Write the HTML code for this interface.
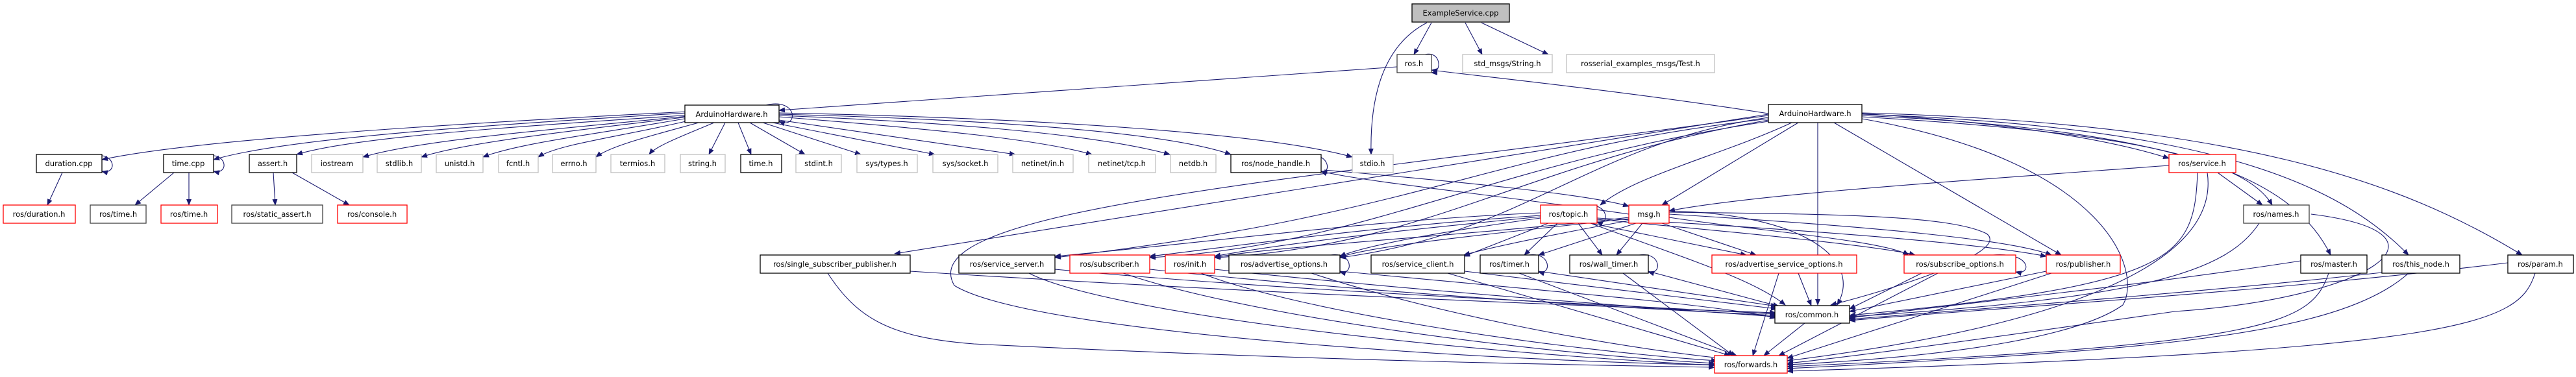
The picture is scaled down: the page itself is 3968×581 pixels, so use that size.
<!DOCTYPE html>
<html><head><meta charset="utf-8"><style>
html,body{margin:0;padding:0;background:#fff;width:3968px;height:581px;overflow:hidden}
svg text{font-family:"DejaVu Sans","Liberation Sans",sans-serif;font-size:11.5px;fill:#000;text-anchor:middle}
.e path{fill:none;stroke:#191970;stroke-width:1.1}
.n rect{fill:#fff;stroke-width:1.3}
.k{stroke:#000}.g{stroke:#bfbfbf}.r{stroke:#ff0000}.d{stroke:#404040}
</style></head><body>
<svg width="3968" height="581" viewBox="0 0 3968 581" xmlns="http://www.w3.org/2000/svg">
<defs><marker id="a" markerWidth="10" markerHeight="8" refX="9" refY="4" orient="auto" markerUnits="userSpaceOnUse"><path d="M0,0 L10,4 L0,8 z" fill="#191970"/></marker></defs>
<g class="e" marker-end="url(#a)">
<!-- ExampleService -->
<path d="M2205,35 L2178,84"/><path d="M2257,35 L2283,84"/><path d="M2282,35 L2385,84"/>
<path d="M2198,35 C2130,70 2110,150 2112,238"/>
<path d="M2152,103 L1200,170"/>
<path d="M2724,175 C2500,140 2300,120 2205,108"/>
<path d="M2195,84 C2220,78 2222,112 2205,112"/>
<!-- AHL to row2 -->
<path d="M1100,170 C700,190 300,215 157,246"/>
<path d="M1090,172 C800,190 450,210 329,246"/>
<path d="M1080,176 C800,195 550,210 457,238"/>
<path d="M1070,178 C850,200 650,215 559,242"/>
<path d="M1060,180 C900,200 720,218 649,242"/>
<path d="M1060,182 C930,205 800,220 744,242"/>
<path d="M1065,185 C960,210 860,222 829,242"/>
<path d="M1080,188 C1000,210 940,225 918,242"/>
<path d="M1100,189 C1050,210 1010,225 1000,238"/>
<path d="M1117,189 L1092,238"/>
<path d="M1137,189 L1157,238"/>
<path d="M1155,189 L1240,238"/>
<path d="M1175,189 L1326,238"/>
<path d="M1190,189 L1440,238"/>
<path d="M1200,185 L1564,238"/>
<path d="M1200,180 C1450,200 1600,215 1682,238"/>
<path d="M1200,178 C1500,190 1700,210 1802,238"/>
<path d="M1200,176 C1550,185 1800,205 1896,238"/>
<path d="M1200,174 C1600,182 1950,205 2083,242"/>
<path d="M1180,162 C1230,150 1230,200 1200,187"/>
<!-- row2 children -->
<path d="M96,266 L73,316"/><path d="M268,266 L208,316"/><path d="M291,266 L291,316"/>
<path d="M421,266 L424,316"/><path d="M450,266 L538,316"/>
<path d="M145,240 C180,235 180,270 157,264"/><path d="M318,240 C352,235 352,270 329,264"/>
<!-- AHR -->
<path d="M2760,189 C2650,240 2520,270 2465,316"/>
<path d="M2770,189 L2560,316"/>
<path d="M2868,175 C3100,190 3250,215 3341,244"/>
<path d="M2868,180 C3200,200 3450,230 3500,316"/>
<path d="M2868,178 C3350,200 3530,270 3590,393"/>
<path d="M2868,176 C3400,195 3600,280 3710,393"/>
<path d="M2868,174 C3450,190 3700,280 3885,393"/>
<path d="M2825,189 L3175,393"/>
<path d="M2724,183 C2300,230 2200,330 1625,397"/>
<path d="M2724,187 C2300,250 2100,380 1771,397"/>
<path d="M2724,185 C2350,250 2200,380 1871,397"/>
<path d="M2724,181 C2450,220 2350,360 2064,397"/>
<path d="M2800,189 L2800,470"/>
<path d="M2724,176 L1378,391"/>
<path d="M2724,178 C2000,280 1400,320 1470,440 C1600,520 2400,560 2641,562"/>
<path d="M2868,183 C3250,250 3300,420 3270,470 C3200,520 3000,550 2753,562"/>
<!-- topic -->
<path d="M2373,328 C2100,340 1900,370 1625,395"/>
<path d="M2373,332 C2100,350 1900,380 1771,395"/>
<path d="M2373,334 C2100,360 1950,380 1871,395"/>
<path d="M2373,336 C2200,360 2100,380 2064,395"/>
<path d="M2385,344 L2255,395"/>
<path d="M2399,344 L2348,393"/>
<path d="M2431,344 L2468,393"/>
<path d="M2450,344 L2690,393"/>
<path d="M2460,338 C2700,360 2900,380 2950,393"/>
<path d="M2460,336 C2800,355 3050,375 3152,395"/>
<path d="M2450,344 C2600,400 2700,430 2750,470"/>
<path d="M2440,317 C2480,310 2480,350 2460,342"/>
<!-- msg -->
<path d="M2509,335 C2300,360 1950,380 1871,397"/>
<path d="M2509,337 C2300,360 2100,380 2064,397"/>
<path d="M2509,340 C2400,360 2300,380 2255,393"/>
<path d="M2520,344 L2370,393"/>
<path d="M2530,344 L2490,393"/>
<path d="M2560,344 L2705,393"/>
<path d="M2571,335 C2700,355 2900,370 2940,393"/>
<path d="M2571,330 C2900,350 3100,370 3160,393"/>
<path d="M2571,327 C2800,330 3000,330 3060,360 C3100,390 2900,450 2820,470"/>
<path d="M2571,325 C2780,330 2870,400 2830,470"/>
<path d="M2509,330 C2300,300 2100,280 2035,264"/>
<path d="M2040,262 C2250,280 2450,300 2509,318"/>
<path d="M3341,255 C3000,280 2700,300 2571,325"/>
<!-- row4 to common / forwards -->
<path d="M1402,418 C1900,450 2400,470 2735,482"/>
<path d="M1625,415 C2000,450 2500,470 2735,484"/>
<path d="M1771,415 C2100,450 2500,475 2735,486"/>
<path d="M1871,415 C2200,450 2550,475 2735,488"/>
<path d="M2064,418 C2400,450 2650,470 2735,490"/>
<path d="M2256,418 L2737,476"/>
<path d="M2370,418 L2737,472"/>
<path d="M2539,418 L2740,472"/>
<path d="M2770,421 L2790,471"/>
<path d="M2960,421 L2849,476"/>
<path d="M3152,418 L2849,480"/>
<path d="M3385,266 C3380,400 3350,440 2849,486"/>
<path d="M3480,344 C3430,420 3300,460 2849,488"/>
<path d="M3544,402 C3300,440 3000,470 2849,490"/>
<path d="M3669,420 C3400,450 3000,480 2849,492"/>
<path d="M3863,405 C3500,450 3000,480 2849,494"/>
<path d="M1275,421 C1320,490 1370,520 1500,530 C2000,555 2400,562 2641,566"/>
<path d="M1585,421 C1700,480 2200,540 2641,563"/>
<path d="M1730,421 C1900,480 2300,540 2641,560"/>
<path d="M1850,421 C2000,480 2400,540 2645,556"/>
<path d="M2020,421 C2200,480 2450,530 2650,552"/>
<path d="M2230,421 L2665,548"/>
<path d="M2340,421 L2675,548"/>
<path d="M2500,421 L2670,548"/>
<path d="M2740,421 L2700,548"/>
<path d="M2780,498 L2717,548"/>
<path d="M2985,421 L2740,548"/>
<path d="M3160,421 L2753,552"/>
<path d="M3400,266 C3420,400 3200,500 2753,556"/>
<path d="M3560,330 C3800,360 3650,460 3350,480 C3000,530 2850,550 2753,560"/>
<path d="M3587,421 C3560,500 3500,530 2753,565"/>
<path d="M3710,421 C3600,520 3300,540 2753,568"/>
<path d="M3905,421 C3880,500 3800,540 2753,572"/>
<path d="M3416,266 L3485,316"/>
<!-- self loops row4 -->
<path d="M2050,393 C2085,388 2085,425 2064,419"/>
<path d="M2355,393 C2390,388 2390,425 2370,419"/>
<path d="M2525,393 C2560,388 2560,425 2539,419"/>
<path d="M3070,393 C3130,388 3130,425 3105,419"/>
<path d="M2015,240 C2050,235 2050,270 2035,264"/>
</g>
<g class="n">
<rect x="2175" y="6" width="150" height="28" fill="#bfbfbf" style="fill:#bfbfbf" class="k"/><text x="2250" y="24">ExampleService.cpp</text>
<rect x="2152" y="84" width="53" height="28" class="d"/><text x="2178" y="102">ros.h</text>
<rect x="2253" y="84" width="138" height="28" class="g"/><text x="2322" y="102">std_msgs/String.h</text>
<rect x="2413" y="84" width="228" height="28" class="g"/><text x="2527" y="102">rosserial_examples_msgs/Test.h</text>
<rect x="1055" y="162" width="145" height="27" class="k"/><text x="1127" y="180">ArduinoHardware.h</text>
<rect x="2724" y="161" width="144" height="28" class="k"/><text x="2796" y="179">ArduinoHardware.h</text>
<rect x="56" y="238" width="101" height="28" class="k"/><text x="106" y="256">duration.cpp</text>
<rect x="252" y="238" width="77" height="28" class="k"/><text x="290" y="256">time.cpp</text>
<rect x="384" y="238" width="73" height="28" class="k"/><text x="420" y="256">assert.h</text>
<rect x="480" y="238" width="79" height="28" class="g"/><text x="519" y="256">iostream</text>
<rect x="581" y="238" width="68" height="28" class="g"/><text x="615" y="256">stdlib.h</text>
<rect x="672" y="238" width="72" height="28" class="g"/><text x="708" y="256">unistd.h</text>
<rect x="768" y="238" width="61" height="28" class="g"/><text x="798" y="256">fcntl.h</text>
<rect x="851" y="238" width="67" height="28" class="g"/><text x="884" y="256">errno.h</text>
<rect x="941" y="238" width="83" height="28" class="g"/><text x="982" y="256">termios.h</text>
<rect x="1048" y="238" width="69" height="28" class="g"/><text x="1082" y="256">string.h</text>
<rect x="1141" y="238" width="63" height="28" class="k"/><text x="1172" y="256">time.h</text>
<rect x="1226" y="238" width="70" height="28" class="g"/><text x="1261" y="256">stdint.h</text>
<rect x="1320" y="238" width="93" height="28" class="g"/><text x="1366" y="256">sys/types.h</text>
<rect x="1437" y="238" width="100" height="28" class="g"/><text x="1487" y="256">sys/socket.h</text>
<rect x="1560" y="238" width="93" height="28" class="g"/><text x="1606" y="256">netinet/in.h</text>
<rect x="1677" y="238" width="103" height="28" class="g"/><text x="1728" y="256">netinet/tcp.h</text>
<rect x="1803" y="238" width="70" height="28" class="g"/><text x="1838" y="256">netdb.h</text>
<rect x="1896" y="238" width="139" height="28" class="k"/><text x="1965" y="256">ros/node_handle.h</text>
<rect x="2083" y="238" width="63" height="28" class="g"/><text x="2114" y="256">stdio.h</text>
<rect x="3341" y="238" width="103" height="28" class="r"/><text x="3392" y="256">ros/service.h</text>
<rect x="5" y="316" width="111" height="28" class="r"/><text x="60" y="334">ros/duration.h</text>
<rect x="139" y="316" width="86" height="28" class="d"/><text x="182" y="334">ros/time.h</text>
<rect x="248" y="316" width="87" height="28" class="r"/><text x="291" y="334">ros/time.h</text>
<rect x="357" y="316" width="140" height="28" class="d"/><text x="427" y="334">ros/static_assert.h</text>
<rect x="520" y="316" width="107" height="28" class="r"/><text x="573" y="334">ros/console.h</text>
<rect x="2373" y="316" width="87" height="28" class="r"/><text x="2416" y="334">ros/topic.h</text>
<rect x="2509" y="316" width="62" height="28" class="r"/><text x="2540" y="334">msg.h</text>
<rect x="3456" y="316" width="101" height="28" class="d"/><text x="3506" y="334">ros/names.h</text>
<rect x="1171" y="393" width="231" height="28" class="k"/><text x="1286" y="411">ros/single_subscriber_publisher.h</text>
<rect x="1477" y="393" width="148" height="28" class="k"/><text x="1551" y="411">ros/service_server.h</text>
<rect x="1648" y="393" width="123" height="28" class="r"/><text x="1709" y="411">ros/subscriber.h</text>
<rect x="1795" y="393" width="76" height="28" class="r"/><text x="1833" y="411">ros/init.h</text>
<rect x="1893" y="393" width="171" height="28" class="k"/><text x="1978" y="411">ros/advertise_options.h</text>
<rect x="2112" y="393" width="144" height="28" class="k"/><text x="2184" y="411">ros/service_client.h</text>
<rect x="2280" y="393" width="90" height="28" class="k"/><text x="2325" y="411">ros/timer.h</text>
<rect x="2418" y="393" width="121" height="28" class="k"/><text x="2478" y="411">ros/wall_timer.h</text>
<rect x="2637" y="393" width="223" height="28" class="r"/><text x="2748" y="411">ros/advertise_service_options.h</text>
<rect x="2933" y="393" width="172" height="28" class="r"/><text x="3019" y="411">ros/subscribe_options.h</text>
<rect x="3152" y="393" width="114" height="28" class="r"/><text x="3209" y="411">ros/publisher.h</text>
<rect x="3544" y="393" width="102" height="28" class="k"/><text x="3595" y="411">ros/master.h</text>
<rect x="3669" y="393" width="120" height="28" class="k"/><text x="3729" y="411">ros/this_node.h</text>
<rect x="3863" y="393" width="101" height="28" class="k"/><text x="3913" y="411">ros/param.h</text>
<rect x="2734" y="471" width="115" height="27" class="k"/><text x="2791" y="489">ros/common.h</text>
<rect x="2641" y="548" width="112" height="27" class="r"/><text x="2697" y="566">ros/forwards.h</text>
</g>
</svg>
</body></html>
